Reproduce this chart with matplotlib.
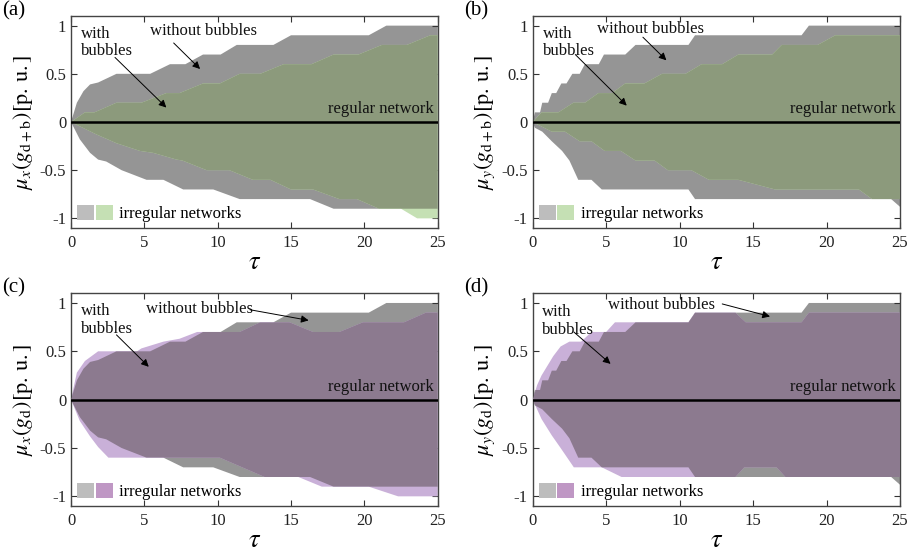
import numpy as np
import matplotlib
matplotlib.use('Agg')
import matplotlib.pyplot as plt
from matplotlib.patches import Patch
from matplotlib.legend_handler import HandlerTuple

plt.rcParams['font.family'] = ['Liberation Serif', 'DejaVu Serif']
plt.rcParams['mathtext.fontset'] = 'stix'
plt.rcParams['axes.unicode_minus'] = False

# --- envelopes (tau knots, value) ---
# without bubbles, x direction (panels a, c)
gx_up_t = [0, 0.4, 0.85, 1.3, 1.85, 3.1, 5.4, 6.75, 7.8, 9.0, 10.2, 11.3, 13.8, 15.0, 20.3, 21.5, 25]
gx_up = [0, 0.2, 0.32, 0.39, 0.41, 0.5, 0.5, 0.6, 0.6, 0.7, 0.7, 0.8, 0.8, 0.9, 0.9, 1.0, 1.0]
gx_lo_t = [0, 0.6, 1.3, 1.85, 2.4, 3.45, 5.15, 6.3, 7.65, 9.7, 11.5, 16.3, 17.9, 25]
gx_lo = [0, -0.18, -0.32, -0.39, -0.41, -0.5, -0.6, -0.6, -0.7, -0.7, -0.8, -0.8, -0.9, -0.9]

# without bubbles, y direction (panels b, d)
gy_up_t = [0, 0.15, 0.5, 0.65, 1.05, 1.3, 1.6, 1.95, 2.3, 2.7, 3.2, 3.55, 4.5, 4.85, 6.3, 7.0, 10.6, 11.05, 18.3, 18.8, 25]
gy_up = [0, 0.1, 0.1, 0.2, 0.2, 0.3, 0.3, 0.4, 0.4, 0.5, 0.5, 0.6, 0.6, 0.7, 0.7, 0.8, 0.8, 0.9, 0.9, 1.0, 1.0]
gy_lo_t = [0, 0.15, 0.65, 1.3, 2.0, 2.5, 2.8, 3.1, 4.0, 4.7, 10.6, 11.05, 24.4, 25]
gy_lo = [0, -0.06, -0.1, -0.2, -0.3, -0.4, -0.5, -0.6, -0.6, -0.7, -0.7, -0.8, -0.8, -0.88]

# with bubbles, g_d+b, x direction (a)
ax_up_t = [0, 0.95, 1.6, 3.1, 4.8, 6.5, 7.4, 9.0, 10.15, 11.5, 12.9, 14.5, 16.4, 17.9, 19.6, 21.2, 22.9, 24.5, 25]
ax_up = [0, 0.1, 0.1, 0.2, 0.2, 0.3, 0.3, 0.4, 0.4, 0.5, 0.5, 0.6, 0.6, 0.7, 0.7, 0.8, 0.8, 0.9, 0.9]
ax_lo_t = [0, 1.75, 3.1, 4.7, 5.6, 7.2, 7.6, 9.25, 10.8, 12.4, 13.6, 15.0, 16.5, 18.3, 19.5, 21.0, 22.5, 23.6, 25]
ax_lo = [0, -0.13, -0.22, -0.3, -0.32, -0.39, -0.4, -0.5, -0.5, -0.6, -0.6, -0.7, -0.7, -0.8, -0.8, -0.9, -0.9, -1.0, -1.0]

# with bubbles, g_d+b, y direction (b)
by_up_t = [0, 0.6, 1.75, 2.77, 3.56, 4.47, 5.4, 6.3, 7.6, 8.8, 10.4, 11.5, 12.9, 14.0, 16.3, 16.95, 19.4, 20.6, 25]
by_up = [0, 0.1, 0.1, 0.2, 0.2, 0.3, 0.3, 0.4, 0.4, 0.5, 0.5, 0.6, 0.6, 0.7, 0.7, 0.8, 0.8, 0.9, 0.9]
by_lo_t = [0, 1.3, 2.2, 3.2, 4.0, 4.9, 6.0, 7.0, 8.3, 9.2, 10.8, 12.0, 14.0, 16.5, 22.2, 23.1, 25]
by_lo = [0, -0.1, -0.1, -0.2, -0.2, -0.3, -0.3, -0.4, -0.4, -0.5, -0.5, -0.6, -0.6, -0.7, -0.7, -0.8, -0.8]

# with bubbles, g_d, x direction (c)
cx_up_t = [0, 0.4, 0.95, 1.85, 4.5, 4.8, 6.3, 7.4, 8.6, 11.5, 12.9, 14.9, 16.5, 18.3, 19.9, 22.7, 24.2, 25]
cx_up = [0, 0.28, 0.4, 0.5, 0.5, 0.53, 0.6, 0.63, 0.7, 0.7, 0.8, 0.8, 0.7, 0.7, 0.8, 0.8, 0.9, 0.9]
cx_lo_t = [0, 0.6, 1.3, 1.85, 2.55, 10.15, 13.2, 15.5, 17.1, 20.3, 22.3, 25]
cx_lo = [0, -0.22, -0.38, -0.49, -0.6, -0.6, -0.8, -0.8, -0.9, -0.9, -1.0, -1.0]

# with bubbles, g_d, y direction (d)
dy_up_t = [0, 0.3, 0.6, 1.0, 1.4, 1.9, 2.5, 3.3, 4.0, 5.0, 5.6, 10.6, 11.05, 13.8, 14.5, 18.3, 18.8, 25]
dy_up = [0, 0.15, 0.25, 0.35, 0.45, 0.55, 0.6, 0.6, 0.7, 0.7, 0.8, 0.8, 0.9, 0.9, 0.8, 0.8, 0.9, 0.9]
dy_lo_t = [0, 0.6, 1.3, 1.9, 2.8, 4.7, 6.05, 13.8, 14.4, 16.6, 17.2, 25]
dy_lo = [0, -0.2, -0.37, -0.5, -0.7, -0.7, -0.8, -0.8, -0.7, -0.7, -0.8, -0.8]

yticks = [-1, -0.5, 0, 0.5, 1]
ytick_labels = ['-1', '-0.5', '0', '0.5', '1']
xticks = [0, 5, 10, 15, 20, 25]

gray = '#959595'
gray_leg = '#bdbdbd'
green_light, green_dark, green_leg = '#c5e0b4', '#8c9a7c', '#c5e0b4'
purple_light, purple_dark, purple_leg = '#c9b0d8', '#8c7a8f', '#bf97c4'


def envelope(ut, u, lt, l):
    xs = list(ut) + list(lt)[::-1]
    ys = list(u) + list(l)[::-1]
    return xs, ys


fig = plt.figure(figsize=(9.11, 5.52), dpi=100)
W, H = 911, 552
boxes = [(71, 16, 437.7, 228), (532.7, 16, 900, 228),
         (71, 293.3, 437.7, 506), (532.7, 293.3, 900, 506)]

panels = [
    dict(lab='(a)', g=(gx_up_t, gx_up, gx_lo_t, gx_lo), c=(ax_up_t, ax_up, ax_lo_t, ax_lo),
         cl=green_light, cd=green_dark, leg=green_leg,
         ylab=r'$\mu_x(g_{\mathrm{d+b}})[\mathrm{p.\,u.}]$',
         wo=(5.4, 0.94), wo_arr=((7.0, 0.82), (8.8, 0.55)), wi=(0.7, 1.0), wi_arr=((3.0, 0.67), (6.5, 0.15))),
    dict(lab='(b)', g=(gy_up_t, gy_up, gy_lo_t, gy_lo), c=(by_up_t, by_up, by_lo_t, by_lo),
         cl=green_light, cd=green_dark, leg=green_leg,
         ylab=r'$\mu_y(g_{\mathrm{d+b}})[\mathrm{p.\,u.}]$',
         wo=(4.4, 0.96), wo_arr=((7.5, 0.88), (9.1, 0.64)), wi=(0.7, 1.0), wi_arr=((2.9, 0.7), (6.4, 0.17))),
    dict(lab='(c)', g=(gx_up_t, gx_up, gx_lo_t, gx_lo), c=(cx_up_t, cx_up, cx_lo_t, cx_lo),
         cl=purple_light, cd=purple_dark, leg=purple_leg,
         ylab=r'$\mu_x(g_{\mathrm{d}})[\mathrm{p.\,u.}]$',
         wo=(5.1, 0.94), wo_arr=((12.2, 0.93), (16.2, 0.82)), wi=(0.7, 1.0), wi_arr=((3.1, 0.67), (5.3, 0.34))),
    dict(lab='(d)', g=(gy_up_t, gy_up, gy_lo_t, gy_lo), c=(dy_up_t, dy_up, dy_lo_t, dy_lo),
         cl=purple_light, cd=purple_dark, leg=purple_leg,
         ylab=r'$\mu_y(g_{\mathrm{d}})[\mathrm{p.\,u.}]$',
         wo=(5.15, 0.98), wo_arr=((12.9, 0.99), (16.15, 0.86)), wi=(0.66, 0.99), wi_arr=((2.8, 0.7), (5.3, 0.37))),
]

for box, p in zip(boxes, panels):
    x0, y0, x1, y1 = box
    ax = fig.add_axes([x0 / W, 1 - y1 / H, (x1 - x0) / W, (y1 - y0) / H])

    gxs, gys = envelope(*p['g'])
    cxs, cys = envelope(*p['c'])
    gpoly = ax.fill(gxs, gys, color=gray, lw=0, zorder=1)[0]
    ax.fill(cxs, cys, color=p['cl'], lw=0, zorder=2)
    over = ax.fill(cxs, cys, color=p['cd'], lw=0, zorder=3)[0]
    over.set_clip_path(gpoly)

    ax.axhline(0, color='black', lw=1.8, zorder=4)

    ax.set_xlim(0, 25)
    ax.set_ylim(-1.1, 1.1)
    ax.set_xticks(xticks)
    ax.set_yticks(yticks)
    ax.set_yticklabels(ytick_labels)
    ax.tick_params(direction='in', top=True, right=True, length=4, labelsize=12,
                   color='#333333', labelcolor='#222222')
    ax.tick_params(axis='x', pad=5)
    for s in ax.spines.values():
        s.set_color('#444444')
        s.set_linewidth(1.0)
    ax.set_xlabel(r'$\tau$', fontsize=19, labelpad=1)
    ax.set_ylabel(p['ylab'], fontsize=16, labelpad=3)

    ax.text(24.7, 0.13, 'regular network', ha='right', va='center', fontsize=12, color='#111111', zorder=5)
    ax.text(p['wo'][0], p['wo'][1], 'without bubbles', ha='left', va='center', fontsize=12,
            color='#111111', zorder=5)
    ax.text(p['wi'][0], p['wi'][1], 'with\nbubbles', ha='left', va='top', fontsize=12,
            color='#111111', linespacing=1.15, zorder=5)
    for (t0, t1) in [p['wo_arr'], p['wi_arr']]:
        ax.annotate('', xy=t1, xytext=t0, zorder=6,
                    arrowprops=dict(arrowstyle='-|>', color='black', lw=0.7,
                                    mutation_scale=11, shrinkA=0, shrinkB=0))

    h = (Patch(facecolor=gray_leg, lw=0), Patch(facecolor=p['leg'], lw=0))
    ax.legend(handles=[h], labels=['irregular networks'], loc='lower left',
              handler_map={tuple: HandlerTuple(ndivide=None, pad=0.1)},
              frameon=False, fontsize=12, handlelength=2.15, handleheight=1.0,
              handletextpad=0.4, borderaxespad=0.15, borderpad=0.2)

    fig.text((x0 - 69) / W, 1 - (y0 - 15) / H, p['lab'], ha='left', va='top', fontsize=15)

fig.savefig('out.png', dpi=100)
